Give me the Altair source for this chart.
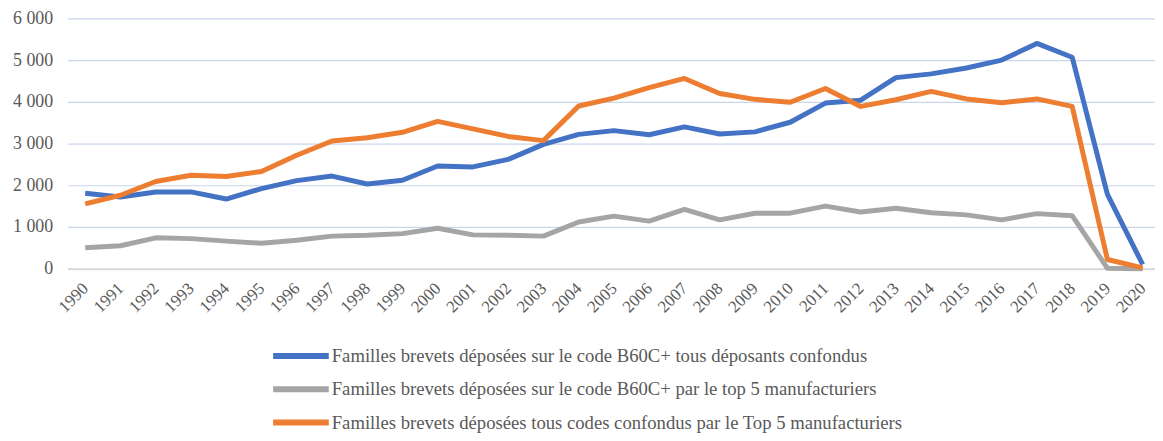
import altair as alt
import pandas as pd

years = list(range(1990, 2021))

s_all = [1810, 1720, 1840, 1840, 1670, 1920, 2110, 2220, 2030, 2120,
         2460, 2440, 2620, 2980, 3220, 3310, 3210, 3400, 3230, 3280,
         3510, 3970, 4040, 4580, 4670, 4810, 5000, 5400, 5070, 1780, 100]
s_top5_b60 = [500, 550, 740, 720, 660, 610, 680, 780, 800, 840,
              970, 810, 800, 780, 1120, 1260, 1140, 1420, 1170, 1330,
              1330, 1500, 1360, 1450, 1340, 1290, 1170, 1320, 1270, 10, 0]
s_top5_all = [1555, 1760, 2090, 2240, 2210, 2330, 2720, 3060, 3140, 3270,
              3530, 3350, 3170, 3070, 3900, 4090, 4340, 4560, 4200, 4060,
              3990, 4320, 3890, 4050, 4250, 4070, 3980, 4070, 3890, 220, 20]

names = [
    "Familles brevets déposées sur le code B60C+ tous déposants confondus",
    "Familles brevets déposées sur le code B60C+ par le top 5 manufacturiers",
    "Familles brevets déposées tous codes confondus par le Top 5 manufacturiers",
]
colors = ["#4472C4", "#A5A5A5", "#ED7D31"]

rows = []
for name, vals, order in zip(names, [s_all, s_top5_b60, s_top5_all], [0, 1, 2]):
    for y, v in zip(years, vals):
        rows.append({"year": y, "value": v, "series": name, "ord": order})
df = pd.DataFrame(rows)

FONT = "Liberation Serif"
TXT = "#595959"

chart = alt.Chart(df).mark_line(strokeWidth=5, strokeJoin="round").encode(
    x=alt.X("year:Q",
            scale=alt.Scale(domain=[1989.5, 2020.35], nice=False, zero=False),
            axis=alt.Axis(values=years, format="d", title=None, grid=False,
                          ticks=False, labelAngle=315, labelAlign="right",
                          labelBaseline="middle", labelPadding=17,
                          labelFont=FONT, labelFontSize=17, labelColor=TXT,
                          domainColor="#D9D9D9", domainWidth=2,
                          labelOverlap=False, labelBound=False)),
    y=alt.Y("value:Q",
            scale=alt.Scale(domain=[0, 6000], nice=False),
            axis=alt.Axis(values=[0, 1000, 2000, 3000, 4000, 5000, 6000],
                          title=None, ticks=False, domain=False,
                          labelExpr="replace(format(datum.value, ','), ',', ' ')",
                          labelPadding=15, labelFont=FONT, labelFontSize=18,
                          labelColor=TXT, gridColor="#C9D6EC", gridWidth=1.2)),
    color=alt.Color("series:N",
                    scale=alt.Scale(domain=names, range=colors),
                    legend=alt.Legend(orient="none", legendX=218, legendY=323,
                                      direction="vertical", title=None,
                                      symbolType="M-2,0H2", symbolSize=784,
                                      symbolStrokeWidth=6, symbolOffset=0,
                                      symbolFillColor="transparent",
                                      labelFont=FONT, labelFontSize=18.8,
                                      labelColor=TXT, labelOffset=14,
                                      rowPadding=4.5, padding=0,
                                      labelLimit=800)),
    order=alt.Order("ord:Q"),
).properties(
    width=1095, height=252,
    autosize=alt.AutoSizeParams(type="none"),
    padding={"left": 60, "top": 9, "right": 0, "bottom": 164},
).configure_view(stroke=None)

chart.save("out.html", embed_options={"renderer": "svg", "actions": False})
